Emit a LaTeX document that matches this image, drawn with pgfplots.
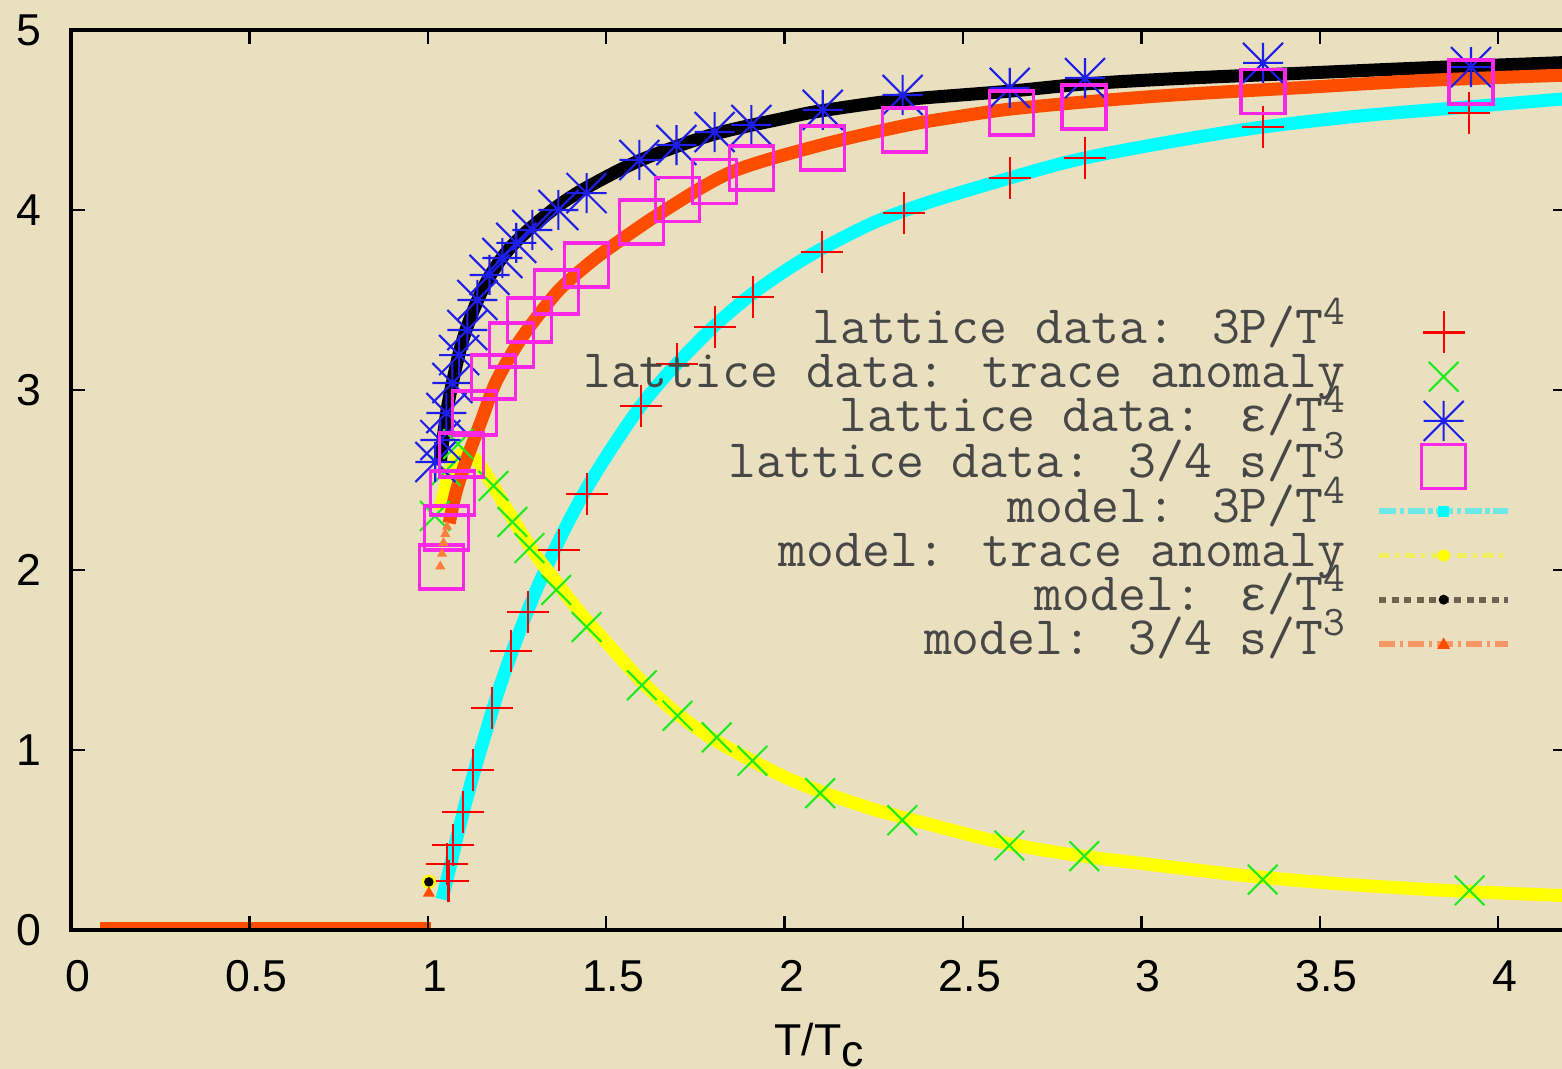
\documentclass[border=0pt]{standalone}
\usepackage{fontspec}
\setmainfont{Liberation Sans}
\newfontfamily\gpmono{Liberation Mono}
\usepackage{pgfplots}
\pgfplotsset{compat=1.18}
\definecolor{bgpaper}{RGB}{234,224,191}
\definecolor{gpred}{RGB}{255,0,0}
\definecolor{gpgreen}{RGB}{30,235,30}
\definecolor{gpblue}{RGB}{30,30,235}
\definecolor{gpmagenta}{RGB}{250,40,230}
\definecolor{gpcyan}{RGB}{0,255,255}
\definecolor{gpyellow}{RGB}{255,255,0}
\definecolor{gporange}{RGB}{255,77,0}
\definecolor{gporangelt}{RGB}{250,125,60}

\pgfdeclareplotmark{gpstar}{%
  \pgfpathmoveto{\pgfqpoint{-\pgfplotmarksize}{0pt}}%
  \pgfpathlineto{\pgfqpoint{\pgfplotmarksize}{0pt}}%
  \pgfpathmoveto{\pgfqpoint{0pt}{-\pgfplotmarksize}}%
  \pgfpathlineto{\pgfqpoint{0pt}{\pgfplotmarksize}}%
  \pgfpathmoveto{\pgfqpoint{-\pgfplotmarksize}{-\pgfplotmarksize}}%
  \pgfpathlineto{\pgfqpoint{\pgfplotmarksize}{\pgfplotmarksize}}%
  \pgfpathmoveto{\pgfqpoint{-\pgfplotmarksize}{\pgfplotmarksize}}%
  \pgfpathlineto{\pgfqpoint{\pgfplotmarksize}{-\pgfplotmarksize}}%
  \pgfusepathqstroke}

\newcommand{\sups}[1]{\raisebox{1.9mm}{\fontsize{12}{12}\selectfont #1}}
\newcommand{\eps}{{\fontsize{13.5}{16}\gpmono ε}}

\begin{document}
\begin{tikzpicture}
\fill[bgpaper] (-7.1mm,-13.9mm) rectangle (149.1mm,93.0mm);
\begin{axis}[
    scale only axis, width=149.6mm, height=90mm,
    at={(0,0)}, anchor=south west,
    xmin=0, xmax=4.193, ymin=0, ymax=5,
    xtick={0,0.5,1,1.5,2,2.5,3,3.5,4},
    xticklabels={0,0.5,1,1.5,2,2.5,3,3.5,4},
    ytick={0,1,2,3,4,5},
    yticklabels={0,1,2,3,4,5},
    tick align=inside, major tick length=1.4mm,
    every tick/.style={black, line width=0.7pt},
    axis line style={line width=0.9pt},
    axis on top,
    /pgf/number format/assume math mode=true,
    tick label style={font=\fontsize{12.7}{15}\selectfont},
    xticklabel style={inner sep=0pt, yshift=-3.0mm, xshift=0.7mm},
    yticklabel style={inner sep=0pt, xshift=-2.9mm},
    xlabel={T/T\raisebox{-1.1mm}{c}},
    xlabel style={at={(axis description cs:0.5,0)}, anchor=north, inner sep=0pt,
                  yshift=-9.2mm, font=\fontsize{12.7}{15}\selectfont},
    legend image code/.code={%
      \draw[mark repeat=2,mark phase=2] plot coordinates {(0mm,0mm) (6.45mm,0mm) (12.9mm,0mm)};},
    legend cell align=right, legend plot pos=right,
    legend style={draw=none, fill=none, at={(0.963,0.688)}, anchor=north east,
                  inner sep=0pt, column sep=3.1mm, row sep=0.22mm,
                  font=\ttfamily\fontsize{15.4}{18}\selectfont, text=black!72,
                  nodes={inner sep=0pt, text height=3.2mm, text depth=1.0mm}},
]
% lattice data
\addplot[only marks, mark=+, mark size=2.1mm, color=gpred, line width=0.6pt] coordinates {
(1.058,0.272) (1.053,0.367) (1.070,0.472) (1.098,0.656) (1.126,0.889)
(1.180,1.233) (1.233,1.550) (1.281,1.767) (1.368,2.111) (1.446,2.422)
(1.598,2.911) (1.699,3.144) (1.805,3.350) (1.912,3.517) (2.105,3.767)
(2.335,3.983) (2.632,4.178) (2.842,4.289) (3.341,4.461) (3.919,4.539)};
\addlegendentry{lattice data: 3P/T\sups{4}}
\addplot[only marks, mark=x, mark size=2.1mm, color=gpgreen, line width=0.6pt] coordinates {
(1.020,2.30) (1.050,2.55) (1.085,2.70) (1.184,2.467) (1.237,2.267)
(1.285,2.122) (1.360,1.889) (1.445,1.683) (1.600,1.36) (1.700,1.19)
(1.810,1.07) (1.910,0.94) (2.100,0.76) (2.330,0.61) (2.630,0.47)
(2.840,0.41) (3.340,0.28) (3.920,0.22)};
\addlegendentry{lattice data: trace anomaly}
\addplot[only marks, mark=gpstar, mark size=2.0mm, color=gpblue, line width=0.6pt] coordinates {
(1.021,2.600) (1.035,2.722) (1.052,2.872) (1.069,3.039) (1.088,3.194)
(1.111,3.333) (1.139,3.500) (1.173,3.639) (1.209,3.733) (1.248,3.817)
(1.293,3.889) (1.366,4.000) (1.445,4.094) (1.593,4.278) (1.697,4.361)
(1.804,4.433) (1.907,4.472) (2.107,4.556) (2.331,4.639) (2.631,4.678)
(2.842,4.733) (3.341,4.817) (3.924,4.794)};
\addlegendentry{lattice data: \eps/T\sups{4}}
\addplot[only marks, mark=square, mark size=2.2mm, color=gpmagenta, line width=0.9pt] coordinates {
(1.038,2.017) (1.052,2.233) (1.069,2.428) (1.094,2.639) (1.130,2.872)
(1.184,3.072) (1.234,3.250) (1.284,3.389) (1.360,3.544) (1.445,3.694)
(1.599,3.933) (1.700,4.056) (1.804,4.156) (1.907,4.233) (2.107,4.344)
(2.337,4.444) (2.637,4.539) (2.839,4.572) (3.341,4.656) (3.924,4.711)};
\addlegendentry{lattice data: 3/4 s/T\sups{3}}
% model curves
\addplot[color=gpcyan, line width=3.7pt, smooth,
  legend image code/.code={%
    \draw[draw={rgb,255:red,110;green,232;blue,228}, line width=1.6pt,
          dash pattern=on 1.7mm off 0.35mm on 0.45mm off 0.35mm] (0mm,0mm) -- (12.9mm,0mm);
    \fill[draw=none, gpcyan] (5.9mm,-0.55mm) rectangle (7.0mm,0.55mm);}] coordinates {
(1.040,0.17) (1.060,0.33) (1.080,0.50) (1.100,0.66) (1.130,0.88) (1.160,1.08)
(1.200,1.34) (1.250,1.62) (1.300,1.87) (1.350,2.09) (1.400,2.29) (1.450,2.47)
(1.500,2.63) (1.550,2.78) (1.600,2.92) (1.650,3.04) (1.700,3.15) (1.800,3.35)
(1.900,3.52) (2.000,3.66) (2.100,3.78) (2.250,3.93) (2.400,4.04) (2.600,4.16)
(2.800,4.27) (3.000,4.35) (3.300,4.45) (3.600,4.52) (3.900,4.57) (4.200,4.62)};
\addlegendentry{model: 3P/T\sups{4}}
\addplot[color=gpyellow, line width=3.7pt, smooth,
  legend image code/.code={%
    \draw[draw={rgb,255:red,240;green,238;blue,90}, line width=1.6pt,
          dash pattern=on 1.0mm off 0.6mm on 0.4mm off 0.6mm] (0mm,0mm) -- (12.9mm,0mm);
    \fill[draw=none, gpyellow] (6.45mm,0mm) circle (0.6mm);}] coordinates {
(1.035,2.33) (1.050,2.47) (1.070,2.58) (1.090,2.64) (1.110,2.65) (1.140,2.60)
(1.180,2.48) (1.230,2.31) (1.300,2.09) (1.350,1.96) (1.400,1.83) (1.450,1.71)
(1.500,1.60) (1.600,1.38) (1.700,1.20) (1.800,1.06) (1.900,0.95) (2.000,0.85)
(2.100,0.77) (2.250,0.67) (2.400,0.59) (2.600,0.49) (2.800,0.42) (3.000,0.37)
(3.300,0.30) (3.600,0.25) (3.900,0.215) (4.200,0.19)};
\addlegendentry{model: trace anomaly}
\addplot[color=black, line width=3.7pt, smooth,
  legend image code/.code={%
    \draw[draw={rgb,255:red,110;green,100;blue,80}, line width=1.6pt,
          dash pattern=on 0.7mm off 0.55mm] (0mm,0mm) -- (12.9mm,0mm);
    \fill[draw=none, black] (6.45mm,0mm) circle (0.5mm);}] coordinates {
(1.035,2.60) (1.045,2.76) (1.055,2.90) (1.070,3.05) (1.090,3.22) (1.110,3.35)
(1.140,3.50) (1.170,3.62) (1.210,3.74) (1.250,3.83) (1.300,3.92) (1.370,4.03)
(1.450,4.13) (1.600,4.28) (1.800,4.42) (2.000,4.51) (2.100,4.55) (2.320,4.61)
(2.630,4.66) (2.840,4.70) (3.100,4.73) (3.450,4.76) (3.800,4.79) (4.200,4.82)};
\addlegendentry{model: \eps/T\sups{4}}
\addplot[color=gporange, line width=3.7pt, smooth,
  legend image code/.code={%
    \draw[draw={rgb,255:red,245;green,150;blue,100}, line width=1.6pt,
          dash pattern=on 1.6mm off 0.5mm on 0.3mm off 0.5mm] (0mm,0mm) -- (12.9mm,0mm);
    \fill[draw=none, gporange] (5.8mm,-0.5mm) -- (7.1mm,-0.5mm) -- (6.45mm,0.65mm) -- cycle;}] coordinates {
(1.060,2.26) (1.080,2.44) (1.110,2.62) (1.150,2.83) (1.190,3.04) (1.250,3.25)
(1.300,3.39) (1.370,3.56) (1.450,3.70) (1.510,3.79) (1.650,3.98) (1.850,4.21)
(2.100,4.36) (2.340,4.47) (2.490,4.52) (2.630,4.56) (2.840,4.60) (3.100,4.64)
(3.450,4.68) (3.800,4.72) (4.200,4.75)};
\addlegendentry{model: 3/4 s/T\sups{3}}
% model below T_c and at T_c
\addplot[forget plot, color=black, line width=3.7pt] coordinates {(0.082,0) (1.010,0)};
\addplot[forget plot, color=gporange, line width=3.7pt] coordinates {(0.082,0.01) (1.010,0.01)};
\addplot[forget plot, only marks, mark=triangle*, mark size=0.45mm, color=gporangelt] coordinates {
(1.035,2.02) (1.040,2.09) (1.044,2.15) (1.049,2.20) (1.054,2.24)};
\addplot[forget plot, only marks, mark=*, mark size=0.65mm, color=gpyellow] coordinates {(1.003,0.267)};
\addplot[forget plot, only marks, mark=*, mark size=0.4mm, color=black] coordinates {(1.003,0.267)};
\addplot[forget plot, only marks, mark=triangle*, mark size=0.55mm, color=gporange] coordinates {(1.003,0.205)};
\end{axis}
\pgfresetboundingbox
\path[use as bounding box] (-7.1mm,-13.9mm) rectangle (149.1mm,93.0mm);
\end{tikzpicture}
\end{document}
